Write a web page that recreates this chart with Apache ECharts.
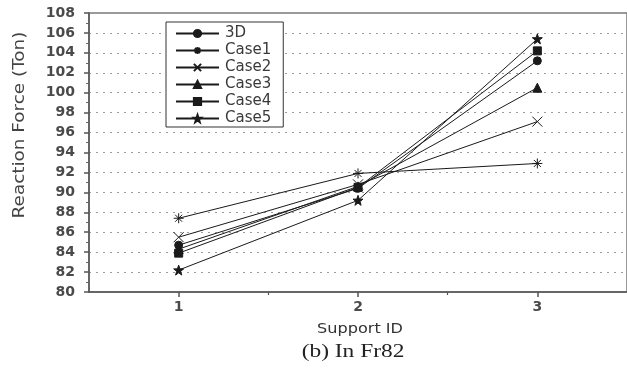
<!DOCTYPE html>
<html>
<head>
<meta charset="utf-8">
<style>
  html, body { margin: 0; padding: 0; background: #fff; }
  #chart { width: 627px; height: 369px; }
</style>
<script src="https://cdn.jsdelivr.net/npm/echarts@6/dist/echarts.min.js"></script>
</head>
<body>
<div id="chart"></div>
<script>
// Support positions along the frame
const supportIds = [1, 2, 3];

// Reaction force (Ton) at each support
const seriesNames = ['3D', 'Case1', 'Case2', 'Case3', 'Case4', 'Case5'];
const force3D    = [84.7, 90.4, 103.2];
const forceCase1 = [87.4, 91.9, 92.9];
const forceCase2 = [85.5, 90.8, 97.1];
const forceCase3 = [84.3, 90.6, 100.5];
const forceCase4 = [83.9, 90.5, 104.2];
const forceCase5 = [82.2, 89.2, 105.4];

// Axis ticks
const yTicks = [80, 82, 84, 86, 88, 90, 92, 94, 96, 98, 100, 102, 104, 106, 108];
const xMinorTicks = [1.5, 2.5];

// Text
const yAxisTitle = 'Reaction Force (Ton)';
const xAxisTitle = 'Support ID';
const caption = '(b) In Fr82';

// Marker shapes
const STAR = 'path://M10,0 L12.35,6.76 L19.51,6.91 L13.8,11.24 L15.88,18.09 L10,14 L4.12,18.09 L6.2,11.24 L0.49,6.91 L7.65,6.76 Z';
const CROSS = 'path://M0,0 L10,10 M10,0 L0,10';
const ASTERISK = 'path://M0,5 L10,5 M5,0 L5,10 M1.5,1.5 L8.5,8.5 M8.5,1.5 L1.5,8.5';

const seriesValues = [force3D, forceCase1, forceCase2, forceCase3, forceCase4, forceCase5];
const markers = [
  { symbol: 'circle', size: 8 },
  { symbol: ASTERISK, size: 10 },
  { symbol: CROSS, size: 10 },
  { symbol: 'triangle', size: 9 },
  { symbol: 'rect', size: 8 },
  { symbol: STAR, size: 10 }
];

const ink = '#1a1a1a';
const tickFont = { fontFamily: 'DejaVu Sans', fontWeight: 'bold', fontSize: 14, color: '#4a4a4a' };

const series = seriesValues.map((vals, i) => ({
  name: seriesNames[i],
  type: 'line',
  xAxisIndex: 0,
  data: vals.map((v, k) => [supportIds[k], v]),
  symbol: markers[i].symbol,
  symbolSize: markers[i].size,
  showAllSymbol: true,
  lineStyle: { color: ink, width: 1 },
  itemStyle: { color: ink, borderColor: ink, borderWidth: 1 },
  emphasis: { disabled: true },
  animation: false
}));

const chart = echarts.init(document.getElementById('chart'), null, { renderer: 'canvas' });
chart.setOption({
  backgroundColor: '#ffffff',
  animation: false,
  graphic: [
    {
      type: 'text',
      x: 20, y: 125,
      rotation: Math.PI / 2,
      scaleX: 1.15,
      style: {
        text: yAxisTitle, align: 'center', verticalAlign: 'middle',
        fontFamily: 'DejaVu Sans', fontSize: 16, fill: '#444'
      }
    },
    {
      type: 'text',
      x: 360, y: 329,
      scaleX: 1.15,
      style: {
        text: xAxisTitle, align: 'center', verticalAlign: 'middle',
        fontFamily: 'DejaVu Sans', fontSize: 14, fill: '#333'
      }
    },
    {
      type: 'text',
      x: 353, y: 352,
      scaleX: 1.3,
      style: {
        text: caption, align: 'center', verticalAlign: 'middle',
        fontFamily: 'Liberation Serif', fontSize: 18, fill: '#222'
      }
    }
  ],
  grid: {
    left: 89, top: 13, width: 540, height: 279,
    show: true, borderColor: '#7a7a7a', borderWidth: 1.5, backgroundColor: 'transparent'
  },
  legend: {
    orient: 'vertical',
    left: 166, top: 22,
    padding: [4, 12, 1, 9],
    borderColor: '#333', borderWidth: 1,
    backgroundColor: '#fff',
    itemWidth: 43, itemHeight: 9, itemGap: 2,
    data: seriesNames,
    textStyle: { fontFamily: 'DejaVu Sans', fontSize: 15, color: '#3a3a3a', padding: [0, 0, 0, 1] }
  },
  xAxis: [
    {
      type: 'value', min: 0.5, max: 3.5, position: 'bottom',
      axisLine: { show: true, lineStyle: { color: '#555', width: 1.5 } },
      axisTick: { show: true, length: 5, customValues: supportIds, lineStyle: { color: '#555', width: 1.5 } },
      axisLabel: { customValues: supportIds, margin: 8, ...tickFont },
      splitLine: { show: false }
    },
    {
      type: 'value', min: 0.5, max: 3.5, position: 'bottom', offset: 0,
      axisLine: { show: false },
      axisTick: { show: true, length: 3, customValues: xMinorTicks, lineStyle: { color: '#555', width: 1.2 } },
      axisLabel: { show: false },
      splitLine: { show: false }
    }
  ],
  yAxis: {
    type: 'value', min: yTicks[0], max: yTicks[yTicks.length - 1], interval: 2,
    axisLine: { show: true, lineStyle: { color: '#555', width: 1.5 } },
    axisTick: { show: true, length: 5, lineStyle: { color: '#555', width: 1.5 } },
    minorTick: { show: true, splitNumber: 2, length: 3, lineStyle: { color: '#666', width: 1 } },
    axisLabel: { margin: 14, ...tickFont },
    splitLine: { show: true, lineStyle: { color: '#9a9a9a', type: [2, 5], width: 1 } }
  },
  series: series
});
</script>
</body>
</html>
